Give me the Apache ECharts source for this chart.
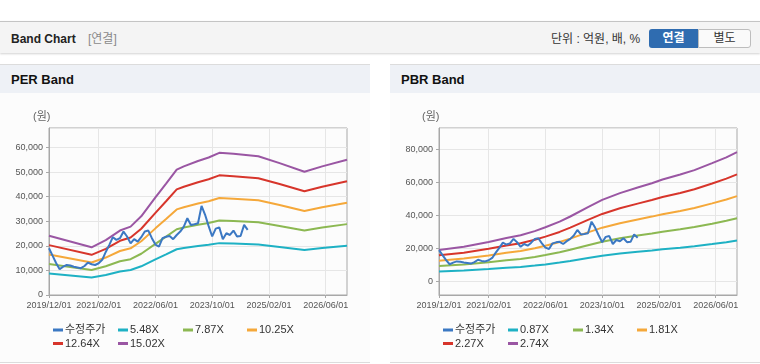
<!DOCTYPE html>
<html>
<head>
<meta charset="utf-8">
<script src="https://cdn.jsdelivr.net/npm/echarts@6/dist/echarts.min.js"></script>
<style>
  html, body { margin:0; padding:0; width:760px; height:364px; overflow:hidden; background:#fff;
    font-family:'Liberation Sans','Noto Sans CJK KR',sans-serif; }
  .abs { position:absolute; }
  #hdr { left:0; top:21px; width:760px; height:31px; background:#f4f4f4; border-top:1px solid #c4c4c4;
    box-shadow:0 1px 2px rgba(0,0,0,0.18); }
  #hdrTitle { left:11px; top:31px; font-size:12px; font-weight:bold; color:#222; line-height:16px; }
  #hdrSub { left:88px; top:31px; font-size:12px; color:#8a8a8a; line-height:16px; }
  #unit { left:551px; top:31px; font-size:12px; color:#333; line-height:16px; }
  #btn1 { left:649px; top:29px; width:49px; height:19px; background:#2f6cb0; color:#fff; font-size:12px; font-weight:bold;
    text-align:center; line-height:19px; border-radius:3px 0 0 3px; }
  #btn2 { left:698px; top:29px; width:51px; height:17px; background:#fafafa; color:#333; font-size:12px;
    text-align:center; line-height:17px; border:1px solid #bdbdbd; border-radius:0 3px 3px 0; }
  .panel { top:64px; height:297px; width:370px; background:#fcfcfc; border-top:1px solid #dcdcdc; border-bottom:1px solid #dcdcdc; }
  .ptitle { left:0; top:0; width:370px; height:28px; background:#eef1f6; }
  .ptitle span { position:absolute; left:11px; top:7px; font-size:13px; font-weight:bold; color:#111; line-height:16px; }
  #chart { left:0; top:0; width:760px; height:364px; }
</style>
</head>
<body>
<div id="hdr" class="abs"></div>
<div id="hdrTitle" class="abs">Band Chart</div>
<div id="hdrSub" class="abs">[연결]</div>
<div id="unit" class="abs">단위 : 억원, 배, %</div>
<div id="btn1" class="abs">연결</div>
<div id="btn2" class="abs">별도</div>
<div class="abs panel" style="left:0"><div class="ptitle abs"><span>PER Band</span></div></div>
<div class="abs panel" style="left:390px"><div class="ptitle abs"><span>PBR Band</span></div></div>
<div id="chart" class="abs"></div>
<script>
// ---- data ----
const startYear = 2019, startMonth = 12, monthCount = 85;   // 2019/12 .. 2026/12 (monthly categories)
const tickLabels = ['2019/12/01','2021/02/01','2022/06/01','2023/10/01','2025/02/01','2026/06/01'];

// adjusted price, monthly from 2019/12
const price = [19000,16000,13000,10500,11500,12200,12000,11500,11200,10900,11800,13200,12500,12200,12900,14300,
  17500,20400,23500,22400,23100,25800,23800,21000,22700,21700,23500,25800,26200,23100,20500,19700,23100,23700,
  24000,22700,24400,25800,27800,31200,28500,28800,29200,36200,32600,28000,23800,27000,27500,22700,25100,24400,
  26200,23800,24000,28500,26500];

// PER band (month index from 2019/12)
const perNames = ['5.48X','7.87X','10.25X','12.64X','15.02X'];
const perMonths = [0,12,16,20,23,26,30,33,36,38,42,45,48,52,59,65,72,77,84];
const per548  = [8790,7080,8140,9560,10140,11670,14480,16530,18610,19080,19880,20390,21090,20940,20580,19550,18280,19080,20060];
const per787  = [12630,10170,11690,13730,14570,16770,20800,23740,26720,27410,28560,29290,30290,30080,29550,28090,26250,27410,28820];
const per1025 = [16450,13240,15220,17880,18970,21840,27090,30910,34800,35690,37190,38150,39440,39170,38490,36580,34190,35690,37530];
const per1264 = [20280,16330,18770,22050,23390,26930,33410,38120,42920,44010,45860,47040,48640,48300,47460,45100,42160,44010,46280];
const per1502 = [24100,19400,22300,26200,27800,32000,39700,45300,51000,52300,54500,55900,57800,57400,56400,53600,50100,52300,55000];

// PBR band
const pbrNames = ['0.87X','1.34X','1.81X','2.27X','2.74X'];
const pbrMonths = [0,7,14,19,23,27,30,34,37,42,46,51,56,60,63,68,72,77,81,84];
const pbr087 = [6080,6700,7590,8350,8890,9680,10410,11490,12480,14290,15650,16960,18030,18860,19560,20510,21370,22700,23810,24800];
const pbr134 = [9370,10320,11690,12860,13700,14920,16040,17710,19220,22010,24110,26120,27780,29050,30130,31600,32920,34970,36680,38200];
const pbr181 = [12650,13940,15790,17370,18500,20150,21670,23910,25960,29730,32570,35280,37520,39240,40690,42680,44460,47230,49550,51590];
const pbr227 = [15870,17480,19800,21790,23200,25270,27180,29990,32560,37280,40850,44240,47060,49210,51040,53520,55760,59240,62140,64710];
const pbr274 = [19150,21100,23900,26300,28000,30500,32800,36200,39300,45000,49300,53400,56800,59400,61600,64600,67300,71500,75000,78100];

// ---- styles ----
const priceName = '수정주가';
const colors = ['#3b78c3','#1eb1c4','#8cb852','#f5a83a','#d7352b','#9a56a3'];

const months = [];
for (let i = 0; i < monthCount; i++) {
  const t = (startMonth - 1) + i;
  const y = startYear + Math.floor(t / 12), m = (t % 12) + 1;
  months.push(y + '/' + (m < 10 ? '0' + m : m) + '/01');
}
const showTick = (idx, val) => tickLabels.indexOf(val) >= 0;

const FONT = "'Liberation Sans','Noto Sans CJK KR',sans-serif";
const grids = [
  { left: 49, top: 128, width: 298, height: 167 },
  { left: 439, top: 128, width: 298, height: 167 }
];
function xAx(gi) {
  return {
    type: 'category', gridIndex: gi, data: months, boundaryGap: false,
    axisLine: { onZero: false, lineStyle: { color: '#a8a8a8' } },
    axisTick: { interval: showTick, length: 3, lineStyle: { color: '#a8a8a8' } },
    axisLabel: { interval: showTick, color: '#555', fontSize: 9, fontFamily: FONT, margin: 6 },
    splitLine: { show: true, interval: showTick, lineStyle: { color: '#e6e6e6' } }
  };
}
function yAx(gi, min, max, step) {
  return {
    type: 'value', gridIndex: gi, min: min, max: max, splitNumber: 5,
    axisLine: { show: true, lineStyle: { color: '#a8a8a8' } },
    axisTick: { show: true, length: 3, lineStyle: { color: '#a8a8a8' } },
    axisLabel: { color: '#555', fontSize: 9, fontFamily: FONT, margin: 6, showMinLabel: min === 0, showMaxLabel: false,
      formatter: v => (v % step === 0 ? echarts.format.addCommas(v) : '') },
    splitLine: { show: true, lineStyle: { color: '#e6e6e6' } }
  };
}
function band(name, mon, vals, color, gi) {
  return { name: name, type: 'line', xAxisIndex: gi, yAxisIndex: gi, showSymbol: false, symbol: 'none',
    data: mon.map((m, i) => [m, vals[i]]), lineStyle: { width: 2, color: color }, itemStyle: { color: color },
    animation: false, z: 2 };
}
function priceSeries(gi) {
  return { name: priceName, type: 'line', xAxisIndex: gi, yAxisIndex: gi, showSymbol: false, symbol: 'none',
    data: price, lineStyle: { width: 2, color: colors[0] }, itemStyle: { color: colors[0] }, animation: false, z: 3 };
}
const series = [
  priceSeries(0),
  band(perNames[0], perMonths, per548, colors[1], 0),
  band(perNames[1], perMonths, per787, colors[2], 0),
  band(perNames[2], perMonths, per1025, colors[3], 0),
  band(perNames[3], perMonths, per1264, colors[4], 0),
  band(perNames[4], perMonths, per1502, colors[5], 0),
  priceSeries(1),
  band(pbrNames[0], pbrMonths, pbr087, colors[1], 1),
  band(pbrNames[1], pbrMonths, pbr134, colors[2], 1),
  band(pbrNames[2], pbrMonths, pbr181, colors[3], 1),
  band(pbrNames[3], pbrMonths, pbr227, colors[4], 1),
  band(pbrNames[4], pbrMonths, pbr274, colors[5], 1)
];
const colX = [53, 118, 183, 247];
const rowY = [323.5, 337];
const legends = [];
function addLegends(names, offX) {
  const all = [priceName].concat(names);
  all.forEach((n, i) => {
    const row = i < 4 ? 0 : 1, col = i < 4 ? i : i - 4;
    legends.push({ data: [n], left: colX[col] + offX, top: rowY[row], padding: 0, icon: 'rect',
      itemWidth: 10, itemHeight: 3, selectedMode: false,
      textStyle: { fontSize: 11, color: '#333', fontFamily: FONT, lineHeight: 13, padding: [0, 0, 0, -3] } });
  });
}
addLegends(perNames, 0);
addLegends(pbrNames, 390);

const chart = echarts.init(document.getElementById('chart'), null, { renderer: 'canvas' });
chart.setOption({
  animation: false,
  grid: grids.map(g => Object.assign({ show: true, borderColor: '#a8a8a8', backgroundColor: 'transparent' }, g)),
  xAxis: [xAx(0), xAx(1)],
  yAxis: [yAx(0, 0, 67900, 10000), yAx(1, -8060, 92700, 20000)],
  legend: legends,
  graphic: [
    { type: 'text', left: 33, top: 111, style: { text: '(원)', fontSize: 11, fill: '#666', fontFamily: FONT } },
    { type: 'text', left: 422, top: 111, style: { text: '(원)', fontSize: 11, fill: '#666', fontFamily: FONT } }
  ],
  series: series
});
</script>
</body>
</html>
